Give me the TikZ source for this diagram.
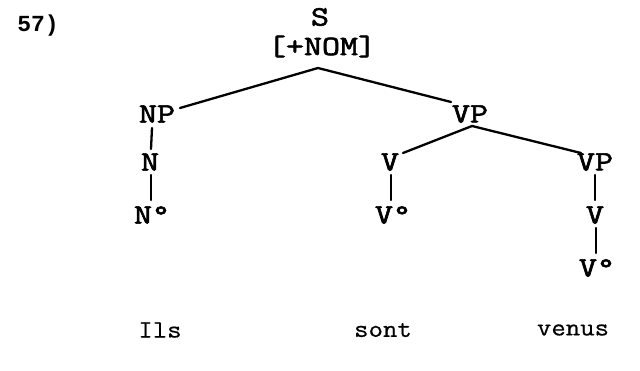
\documentclass[tikz,border=0pt]{standalone}
\usepackage{fontspec}
\usepackage{graphicx}
\newfontfamily\labfont[FakeBold=2]{Latin Modern Mono}
\newfontfamily\wordfont[FakeBold=0.6,FakeStretch=1.12]{Latin Modern Mono}
\newfontfamily\numfont{Liberation Mono}
\newcommand\lb[1]{\scalebox{1.25}[1]{#1}}
\begin{document}
\begin{tikzpicture}[x=1pt,y=-1pt,
  lab/.style={font=\fontsize{28}{30}\labfont, inner sep=0pt, anchor=center},
  word/.style={font=\fontsize{25}{27}\wordfont, inner sep=0pt, anchor=center},
  edge/.style={line width=2.3pt, line cap=round}]
\useasboundingbox (0,0) rectangle (640,371);
\node[font=\fontsize{23}{25}\numfont\bfseries, inner sep=0pt] (num) at (38,26) {57)};
\node[lab] (S) at (320,17) {\lb{S}};
\node[lab] (nom) at (322,46.5) {\lb{[+NOM]}};
\coordinate (apex) at (318,68);
\node[lab] (NP) at (157,114) {\lb{NP}};
\node[lab] (VP1) at (470,114) {\lb{VP}};
\node[lab] (N) at (150,162) {\lb{N}};
\node[lab] (V1) at (390,162) {\lb{V}};
\node[lab] (VP2) at (595,162) {\lb{VP}};
\node[lab] (N0) at (152,215) {\lb{N°}};
\node[lab] (V01) at (393,215) {\lb{V°}};
\node[lab] (V2) at (595,215) {\lb{V}};
\node[lab] (V02) at (597,268) {\lb{V°}};
\node[word] (ils) at (160,330) {Ils};
\node[word] (sont) at (383,330) {sont};
\node[word] (venus) at (573,330) {venus};
\coordinate (vpapex) at (472,126);
\draw[edge] (apex) -- ([shift={(23,-6)}]NP.center);
\draw[edge] (apex) -- ([shift={(-19,-12)}]VP1.center);
\draw[edge] (vpapex) -- ([shift={(13,-9)}]V1.center);
\draw[edge] (vpapex) -- ([shift={(-14,-9)}]VP2.center);
\draw[edge] ([shift={(-5,14)}]NP.center) -- ([shift={(1,-13)}]N.center);
\draw[edge] ([shift={(1,13)}]N.center) -- ([shift={(-1,-15)}]N0.center);
\draw[edge] ([shift={(1,13)}]V1.center) -- ([shift={(-2,-15)}]V01.center);
\draw[edge] ([shift={(0,13)}]VP2.center) -- ([shift={(0,-15)}]V2.center);
\draw[edge] ([shift={(1,13)}]V2.center) -- ([shift={(-1,-15)}]V02.center);
\end{tikzpicture}
\end{document}
